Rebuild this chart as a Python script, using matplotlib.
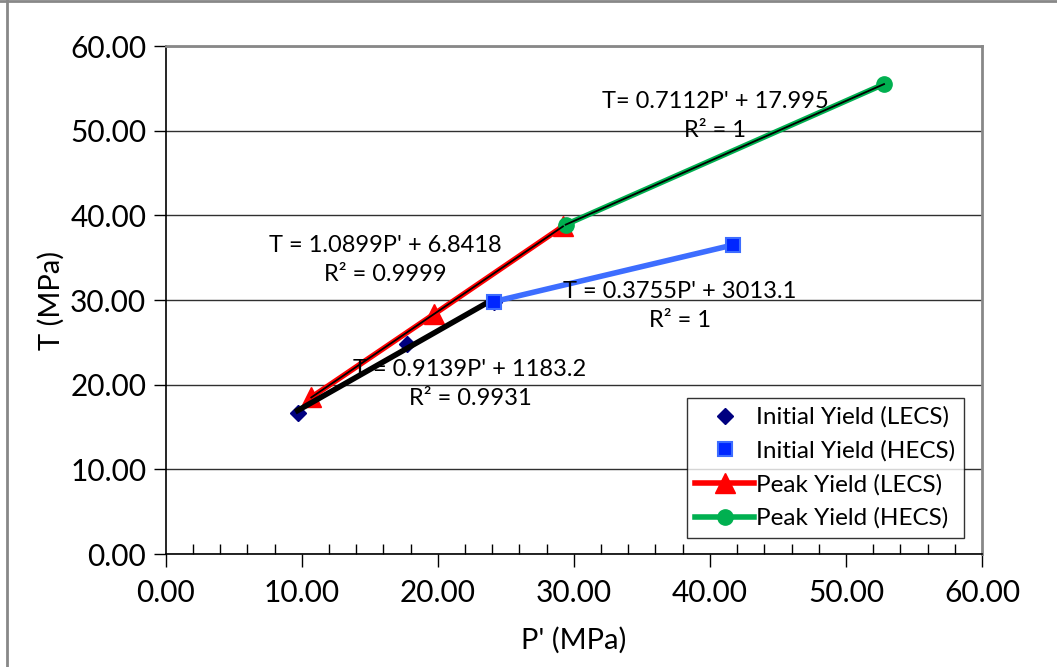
import numpy as np
import matplotlib
matplotlib.use("Agg")
import matplotlib.pyplot as plt
from matplotlib.lines import Line2D
from matplotlib.ticker import MultipleLocator, FormatStrFormatter

plt.rcParams['font.family'] = ['Lato', 'DejaVu Sans']

# Data
init_lecs_p = [9.7, 17.7, 24.1]
init_lecs_t = [16.7, 24.8, 29.8]

init_hecs_p = [24.1, 41.7]
init_hecs_t = [29.8, 36.5]

peak_lecs_p = [10.7, 19.7, 29.2]
peak_lecs_t = [18.5, 28.3, 38.7]

peak_hecs_p = [29.4, 52.8]
peak_hecs_t = [38.9, 55.5]

eq_texts = [
    ("T = 1.0899P' + 6.8418\nR² = 0.9999", 385, 260),
    ("T = 0.9139P' + 1183.2\nR² = 0.9931", 470, 384),
    ("T = 0.3755P' + 3013.1\nR² = 1", 680, 306),
    ("T= 0.7112P' + 17.995\nR² = 1", 715, 116),
]


def trend(p, t):
    k, b = np.polyfit(p, t, 1)
    xs = np.array([min(p), max(p)])
    return xs, k * xs + b


W, H = 1057, 667
fig = plt.figure(figsize=(W / 100, H / 100), dpi=100)
ax = fig.add_axes([165.7 / W, 1 - 554 / H, 816.3 / W, 508 / H])

# Peak yield series (lines + markers)
ax.plot(peak_lecs_p, peak_lecs_t, color='#ff0000', lw=4, marker='^', ms=15,
        zorder=3, label='Peak Yield (LECS)')
ax.plot(peak_hecs_p, peak_hecs_t, color='#00b050', lw=4, marker='o', ms=11,
        zorder=3, label='Peak Yield (HECS)')

# thin trendlines on top of the peak series
for p, t in [(peak_lecs_p, peak_lecs_t), (peak_hecs_p, peak_hecs_t)]:
    xs, ys = trend(p, t)
    ax.plot(xs, ys, color='black', lw=1.3, zorder=4)

# initial yield markers
ax.plot(init_lecs_p, init_lecs_t, ls='none', marker='D', ms=8,
        color='#000080', zorder=4, label='Initial Yield (LECS)')
xs, ys = trend(init_lecs_p, init_lecs_t)
ax.plot(xs, ys, color='black', lw=4, zorder=5)
xs, ys = trend(init_hecs_p, init_hecs_t)
ax.plot(xs, ys, color='#3d6dff', lw=4, zorder=5)
ax.plot(init_hecs_p, init_hecs_t, ls='none', marker='s', ms=10,
        mfc='#0026ff', mec='#3d6dff', mew=1.5, zorder=6,
        label='Initial Yield (HECS)')

for txt, px, py in eq_texts:
    fig.text(px / W, 1 - py / H, txt, ha='center', va='center', fontsize=17,
             linespacing=1.45, zorder=10)

ax.set_xlim(0, 60)
ax.set_ylim(0, 60)
ax.xaxis.set_major_locator(MultipleLocator(10))
ax.xaxis.set_minor_locator(MultipleLocator(2))
ax.yaxis.set_major_locator(MultipleLocator(10))
ax.xaxis.set_major_formatter(FormatStrFormatter('%.2f'))
ax.yaxis.set_major_formatter(FormatStrFormatter('%.2f'))
ax.tick_params(axis='x', which='major', direction='out', length=9, width=1,
               labelsize=21.5, pad=9, colors='black')
ax.tick_params(axis='x', which='minor', direction='in', length=7, width=1)
ax.tick_params(axis='y', which='major', direction='out', length=9, width=1,
               labelsize=21.5, pad=5)
ax.yaxis.grid(True, color='#303030', lw=1)
ax.set_axisbelow(True)

for s in ['left', 'bottom']:
    ax.spines[s].set_color('black')
    ax.spines[s].set_linewidth(1.2)
for s in ['top', 'right']:
    ax.spines[s].set_color('#888888')
    ax.spines[s].set_linewidth(2)

ax.set_xlabel("P' (MPa)", fontsize=21, labelpad=14)
ax.set_ylabel("T (MPa)", fontsize=21, labelpad=4)

handles, labels = ax.get_legend_handles_labels()
order = [2, 3, 0, 1]
leg = ax.legend([handles[i] for i in order], [labels[i] for i in order],
                loc='upper left', bbox_to_anchor=(0.6386, 0.307),
                borderaxespad=0, fontsize=17.5, frameon=True, fancybox=False,
                edgecolor='black', handlelength=2.4, handletextpad=0.1,
                labelspacing=0.5, borderpad=0.35)
leg.get_frame().set_linewidth(1)
leg.set_zorder(20)

# outer chart border
fig.add_artist(Line2D([7 / W, 7 / W], [0, 1], color='#888888', lw=2))
fig.add_artist(Line2D([0, 1], [1 - 1 / H, 1 - 1 / H], color='#888888', lw=2))

fig.savefig('out.png', dpi=100)
